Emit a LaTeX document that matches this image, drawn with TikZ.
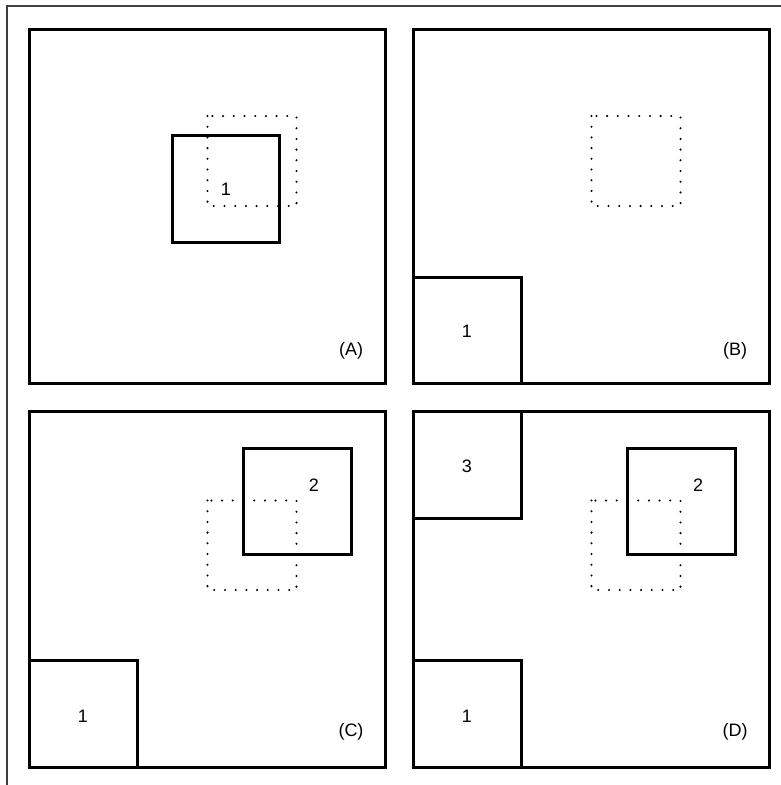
\documentclass[tikz,border=0pt]{standalone}
\usepackage{fontspec}
\setmainfont{Liberation Sans}
\begin{document}
\begin{tikzpicture}[x=1pt,y=-1pt,
  panel/.style={line width=3pt},
  blk/.style={line width=3pt},
  ghost/.style={line width=2.3pt,line cap=round,dash pattern=on 0pt off 10.7pt},
  lbl/.style={font=\fontsize{18}{21}\selectfont,inner sep=0pt},
  frame/.style={line width=1.2pt,draw=black!75}]
\useasboundingbox (0,0) rectangle (781,785);
\draw[frame] (7,785) -- (7,6) -- (781,6);
% Panel A
\draw[panel] (29,29) rectangle (385,383);
\draw[ghost] (207.5,116) rectangle (296.5,206);
\draw[blk] (172,135) rectangle (279,242);
\node[lbl] (a1) at (226,189) {1};
\node[lbl] (la) at (351,351) {(A)};
% Panel B
\draw[panel] (413,29) rectangle (769,383);
\draw[ghost] (591.5,116) rectangle (680.5,206);
\draw[blk] (413,277) rectangle (521,383);
\node[lbl] (b1) at (467,331) {1};
\node[lbl] (lb) at (735,351) {(B)};
% Panel C
\draw[panel] (29,411) rectangle (385,767);
\draw[ghost] (207.5,500.5) rectangle (296.5,590);
\draw[blk] (243,448) rectangle (351,554);
\draw[blk] (29,660) rectangle (137,767);
\node[lbl] (c2) at (314,485) {2};
\node[lbl] (c1) at (83,716) {1};
\node[lbl] (lc) at (351,732) {(C)};
% Panel D
\draw[panel] (413,411) rectangle (769,767);
\draw[ghost] (591.5,500.5) rectangle (680.5,590);
\draw[blk] (627,448) rectangle (735,554);
\draw[blk] (413,411) rectangle (521,518);
\draw[blk] (413,660) rectangle (521,767);
\node[lbl] (d2) at (698,485) {2};
\node[lbl] (d3) at (467,466) {3};
\node[lbl] (d1) at (467,716) {1};
\node[lbl] (ld) at (735,732) {(D)};
\end{tikzpicture}
\end{document}
